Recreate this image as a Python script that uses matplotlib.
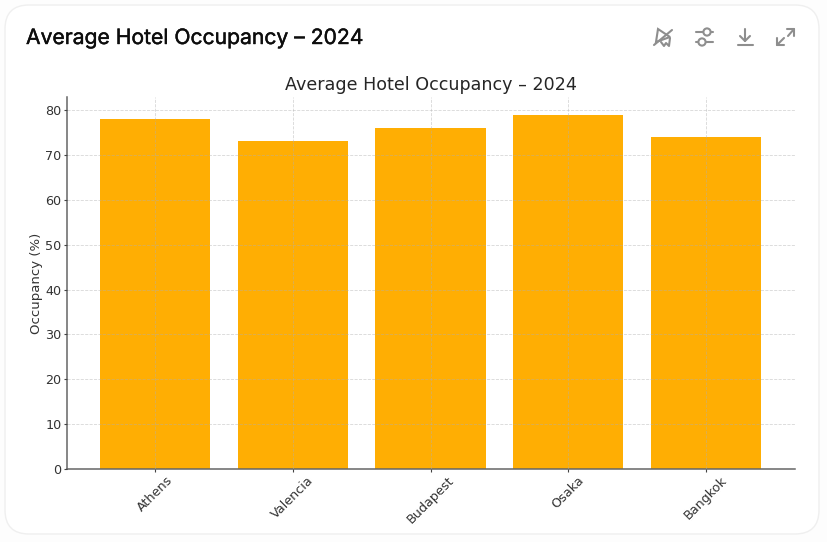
import matplotlib
matplotlib.use("Agg")
import matplotlib.pyplot as plt
import matplotlib.patheffects as pe
from matplotlib.patches import FancyBboxPatch, Circle, Polygon

cities = ["Athens", "Valencia", "Budapest", "Osaka", "Bangkok"]
occupancy = [78, 73, 76, 79, 74]
y_ticks = [0, 10, 20, 30, 40, 50, 60, 70, 80]
W, H = 828, 542

fig = plt.figure(figsize=(W / 100, H / 100), dpi=100, facecolor="#fdfdfd")

# card and header, drawn in pixel coordinates
bg = fig.add_axes([0, 0, 1, 1])
bg.set_xlim(0, W)
bg.set_ylim(H, 0)
bg.axis("off")
bg.add_patch(FancyBboxPatch((5, 5), 814, 529, boxstyle="round,pad=0,rounding_size=24",
                            fc="white", ec="#efefef", lw=1))
# Inter has no medium weight here, thicken the regular a bit
bg.text(26, 38, "Average Hotel Occupancy – 2024", family="Inter", fontsize=15.2,
        color="#0d0d0d", va="center", ha="left",
        path_effects=[pe.withStroke(linewidth=0.3, foreground="#0d0d0d")])

# toolbar icons
icon = dict(color="#8e8e8e", lw=1.5, solid_capstyle="round")
# chart type icon, crossed out
bg.add_patch(Polygon([[658, 29], [670, 37], [656, 42]], closed=True, fill=False, ec="#8e8e8e", lw=1.5))
bg.plot([654, 672], [45, 30], **icon)
bg.plot([661, 664, 666, 669, 670], [42, 46, 43, 46, 38], **icon)
# sliders
bg.plot([696, 703], [32, 32], **icon)
bg.plot([711, 713], [32, 32], **icon)
bg.plot([696, 698], [42, 42], **icon)
bg.plot([706, 713], [42, 42], **icon)
bg.add_patch(Circle((707, 32), 3.6, fill=False, ec="#8e8e8e", lw=1.5))
bg.add_patch(Circle((702, 42), 3.6, fill=False, ec="#8e8e8e", lw=1.5))
# download
bg.plot([745, 745], [29, 41], **icon)
bg.plot([740, 745, 750], [36, 41, 36], **icon)
bg.plot([738, 753], [45, 45], **icon)
# expand
bg.plot([777, 784], [45, 38], **icon)
bg.plot([777, 777, 784], [38, 45, 45], **icon)
bg.plot([788, 794], [36, 29], **icon)
bg.plot([787, 794, 794], [29, 29, 36], **icon)

ax = fig.add_axes([67 / W, 1 - 469 / H, 728 / W, 372 / H])
ax.patch.set_alpha(0)
ax.bar(cities, occupancy, width=0.8, color="#ffae03", zorder=2)
ax.grid(True, linestyle="--", linewidth=0.6, color="#b0b0b0", alpha=0.5, zorder=3)
ax.set_axisbelow(False)
ax.set_xlim(-0.639, 4.646)
ax.set_ylim(0, 82.9)
ax.set_yticks(y_ticks)
ax.set_title("Average Hotel Occupancy – 2024", fontsize=12.6, color="#262626", pad=5)
ax.set_ylabel("Occupancy (%)", fontsize=9.5, color="#333333", labelpad=1.5)
ax.tick_params(axis="both", labelsize=9.2, labelcolor="#333333", color="#444444", length=2.5, pad=1.5)
ax.tick_params(axis="x", labelrotation=45, pad=1)
ax.spines["top"].set_visible(False)
ax.spines["right"].set_visible(False)
ax.spines["left"].set_color("#666666")
ax.spines["bottom"].set_color("#666666")
ax.spines["left"].set_linewidth(1.1)
ax.spines["bottom"].set_linewidth(1.1)

fig.savefig("out.png", dpi=100)
